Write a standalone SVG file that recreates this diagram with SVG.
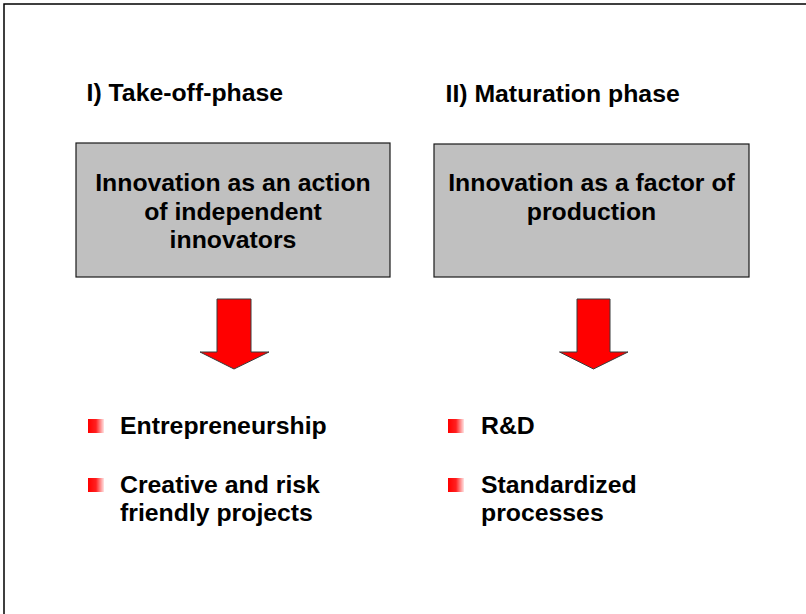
<svg xmlns="http://www.w3.org/2000/svg" width="806" height="614" viewBox="0 0 806 614">
  <defs>
    <linearGradient id="bul" x1="0" y1="0" x2="1" y2="0">
      <stop offset="0" stop-color="#ff0000"/>
      <stop offset="0.5" stop-color="#ff2020"/>
      <stop offset="1" stop-color="#ffe4e4"/>
    </linearGradient>
    <style>
      text { font-family: "Liberation Sans", Arial, sans-serif; font-weight: bold; font-size: 24.8px; fill: #000; }
      .c { text-anchor: middle; }
      .box { fill: #c0c0c0; stroke: #1a1a1a; stroke-width: 1.2; }
      .arrow { fill: #ff0000; stroke: #3a3a3a; stroke-width: 1; stroke-linejoin: miter; }
      .bullet { fill: url(#bul); }
    </style>
  </defs>
  <rect x="0" y="0" width="806" height="614" fill="#ffffff"/>
  <path d="M4,614 V4 H806" fill="none" stroke="#000" stroke-width="1.5"/>

  <g id="title1"><text x="86.5" y="101">I) Take-off-phase</text></g>
  <g id="title2"><text x="445.5" y="102">II) Maturation phase</text></g>

  <g id="box1">
    <rect class="box" x="76" y="143" width="314" height="134"/>
    <text class="c" x="233" y="191">Innovation as an action</text>
    <text class="c" x="233" y="219.5">of independent</text>
    <text class="c" x="233" y="248">innovators</text>
  </g>
  <g id="box2">
    <rect class="box" x="434" y="144" width="315" height="133"/>
    <text class="c" x="591.5" y="191">Innovation as a factor of</text>
    <text class="c" x="591.5" y="219.5">production</text>
  </g>

  <g id="connectors">
    <polygon class="arrow" points="217,299 251,299 251,352 269,352 234,369 200,352 217,352"/>
    <polygon class="arrow" points="577,299 610,299 610,352 628,352 593.5,369 559.5,352 577,352"/>
  </g>

  <g id="list1">
    <rect class="bullet" x="88" y="419" width="16" height="14"/>
    <text x="120" y="433.5">Entrepreneurship</text>
    <rect class="bullet" x="88" y="478" width="16" height="14"/>
    <text x="120" y="493">Creative and risk</text>
    <text x="120" y="521">friendly projects</text>
  </g>
  <g id="list2">
    <rect class="bullet" x="448" y="419" width="16" height="14"/>
    <text x="481" y="433.5">R&amp;D</text>
    <rect class="bullet" x="448" y="478" width="16" height="14"/>
    <text x="481" y="493">Standardized</text>
    <text x="481" y="521">processes</text>
  </g>
</svg>
